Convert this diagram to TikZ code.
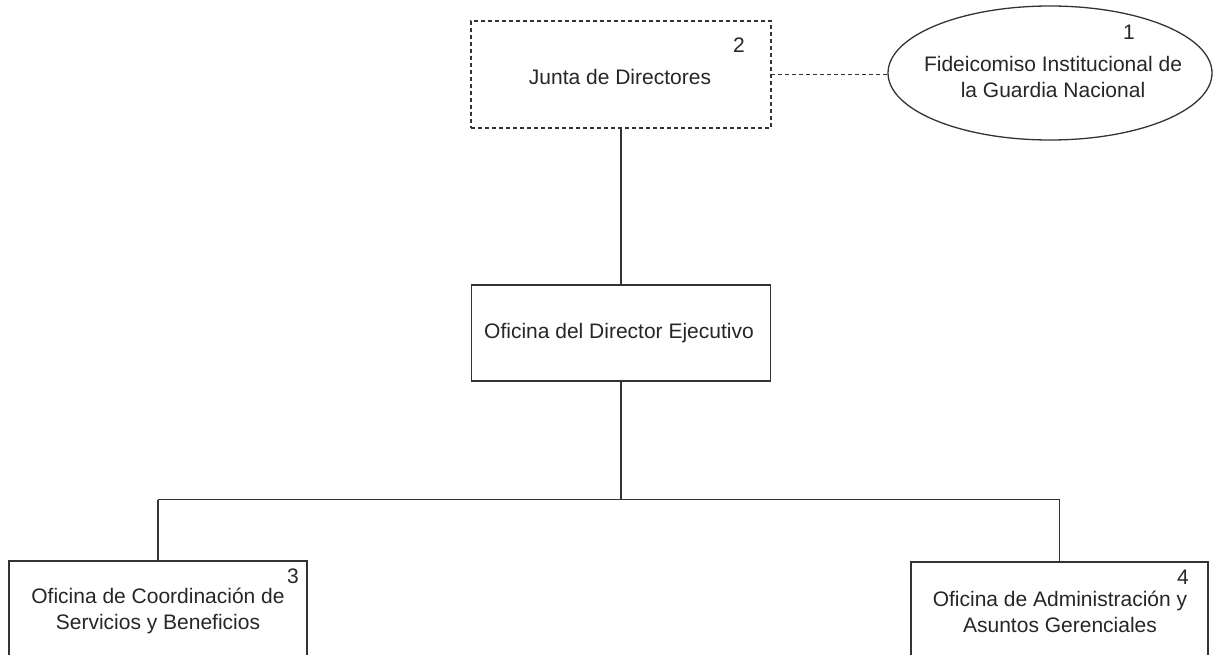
\documentclass[tikz,border=0pt]{standalone}
\usepackage{fontspec}
\setmainfont{Liberation Sans}
\usetikzlibrary{shapes.geometric}
\begin{document}
\begin{tikzpicture}[x=1pt,y=-1pt,
  every node/.style={inner sep=0pt, outer sep=0pt},
  lbl/.style={font=\fontsize{21}{26}\selectfont, text=black!85, align=center},
  orgbox/.style={draw=black!80, line width=1.3pt, rectangle},
  dashbox/.style={orgbox, dash pattern=on 4pt off 3pt},
  conn/.style={draw=black!80, line width=1.3pt},
  dconn/.style={conn, line width=1.1pt, dash pattern=on 4pt off 3pt}]
\useasboundingbox (0,0) rectangle (1214,655);
\clip (0,0) rectangle (1214,655);
% nodes
\node[dashbox, minimum width=300pt, minimum height=107pt] (junta) at (621,74.5) {};
\node[lbl] (juntat) at (620,77) {Junta de Directores};
\node[lbl] (n2) at (739,45) {2};
\node[ellipse, draw=black!80, line width=1.3pt, minimum width=324pt, minimum height=134pt] (fid) at (1050,73) {};
\node[lbl] (fidt) at (1053,77) {Fideicomiso Institucional de\\la Guardia Nacional};
\node[lbl] (n1) at (1129,32) {1};
\node[orgbox, minimum width=299pt, minimum height=96pt] (dir) at (621,333) {};
\node[lbl] (dirt) at (619,333) {Oficina del Director Ejecutivo};
\node[orgbox, minimum width=298pt, minimum height=140pt] (coord) at (158,631) {};
\node[lbl] (coordt) at (158,611) {Oficina de Coordinación de\\Servicios y Beneficios};
\node[lbl] (n3) at (293,576) {3};
\node[orgbox, minimum width=297pt, minimum height=140pt] (adm) at (1059.5,632) {};
\node[lbl] (admt) at (1060,612) {Oficina de Administración y\\Asuntos Gerenciales};
\node[lbl] (n4) at (1183,577) {4};
\coordinate (bus) at (621,499.5);
% connectors
\draw[dconn] (junta.east) -- (junta.east -| fid.west);
\draw[conn] (junta.south) -- (dir.north);
\draw[conn] (dir.south) -- (bus);
\draw[conn] (coord.north |- bus) -- (adm.north |- bus);
\draw[conn] (coord.north |- bus) -- (coord.north);
\draw[conn] (adm.north |- bus) -- (adm.north);
\end{tikzpicture}
\end{document}
